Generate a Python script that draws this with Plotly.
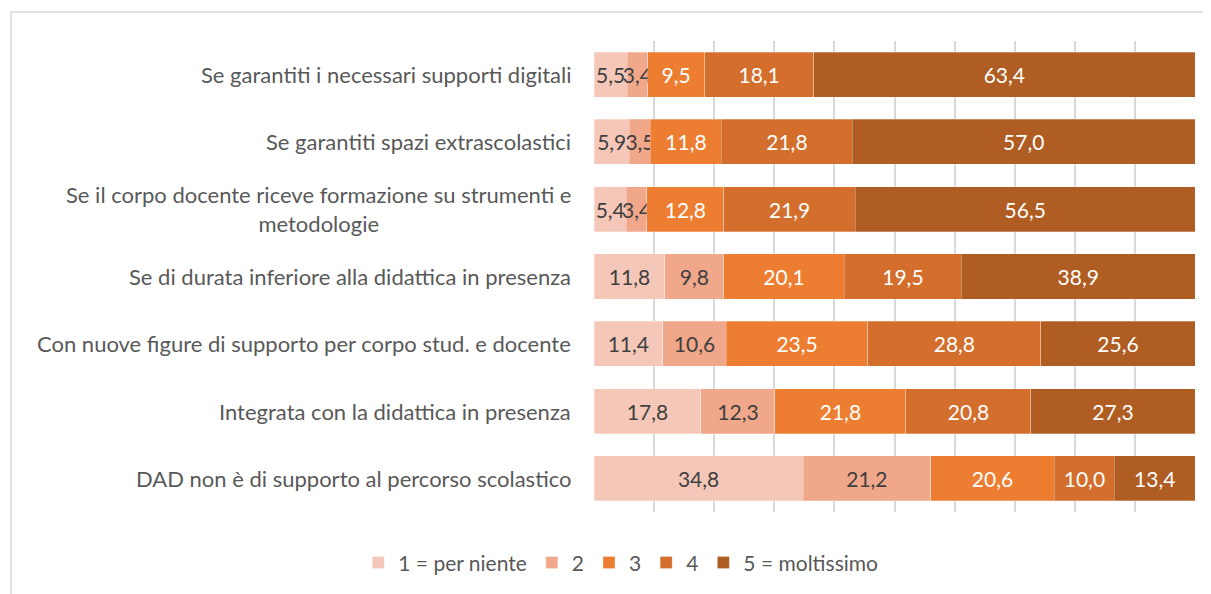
import plotly.graph_objects as go

categories = [
    "Se garantiti i necessari supporti digitali",
    "Se garantiti spazi extrascolastici",
    "Se il corpo docente riceve formazione su strumenti e<br>metodologie",
    "Se di durata inferiore alla didattica in presenza",
    "Con nuove figure di supporto per corpo stud. e docente",
    "Integrata con la didattica in presenza",
    "DAD non è di supporto al percorso scolastico",
]
series_names = ["1 = per niente", "2", "3", "4", "5 = moltissimo"]
s1 = [5.5, 5.9, 5.4, 11.8, 11.4, 17.8, 34.8]
s2 = [3.4, 3.5, 3.4, 9.8, 10.6, 12.3, 21.2]
s3 = [9.5, 11.8, 12.8, 20.1, 23.5, 21.8, 20.6]
s4 = [18.1, 21.8, 21.9, 19.5, 28.8, 20.8, 10.0]
s5 = [63.4, 57.0, 56.5, 38.9, 25.6, 27.3, 13.4]
x_ticks = [0, 10, 20, 30, 40, 50, 60, 70, 80, 90, 100]

colors = ["#F4C7B8", "#F0A78A", "#ED7D31", "#D36E2C", "#B05D24"]
text_colors = ["#404040", "#404040", "#FFFFFF", "#FFFFFF", "#FFFFFF"]
FONT = "Lato"

fig = go.Figure()
for name, vals, c, tc in zip(series_names, [s1, s2, s3, s4, s5], colors, text_colors):
    fig.add_trace(go.Bar(
        y=categories, x=vals, name=name, orientation="h",
        marker=dict(color=c, line=dict(color="rgba(255,255,255,0.35)", width=0.8)),
        text=[f"{v:.1f}".replace(".", ",") for v in vals],
        textposition="inside", insidetextanchor="middle", textangle=0,
        textfont=dict(color=tc, size=21, family=FONT),
        cliponaxis=False,
    ))

for cat in categories:
    fig.add_annotation(
        x=0, xref="paper", xshift=-21, y=cat, yref="y",
        text=cat, showarrow=False, xanchor="right", yanchor="middle", align="center",
        font=dict(size=22, color="#595959", family=FONT),
    )

# chart border (Excel chart area outline)
fig.add_shape(type="rect", xref="paper", yref="paper",
              x0=-0.970, x1=1.1, y0=-0.3, y1=1.0616,
              line=dict(color="#D9D9D9", width=1.5), fillcolor="rgba(0,0,0,0)", layer="below")

fig.update_layout(
    width=1211, height=594,
    barmode="stack", barnorm="percent", bargap=0.33,
    plot_bgcolor="white", paper_bgcolor="white",
    margin=dict(l=586, r=24, t=33, b=90),
    font=dict(family=FONT, color="#595959", size=21),
    uniformtext=dict(minsize=21, mode="show"),
    xaxis=dict(range=[0, 100], tickvals=x_ticks, showticklabels=False,
               showgrid=True, gridcolor="#D9D9D9", gridwidth=1.5, zeroline=False,
               showline=False, fixedrange=True),
    yaxis=dict(autorange="reversed", showticklabels=False, showgrid=False,
               showline=False, zeroline=False),
    legend=dict(orientation="h", xref="container", x=0.506, xanchor="center",
                yref="container", y=0.0657, yanchor="middle",
                font=dict(size=21, color="#595959", family=FONT),
                traceorder="normal", itemwidth=30),
    showlegend=True,
)

fig.write_html("out.html")
